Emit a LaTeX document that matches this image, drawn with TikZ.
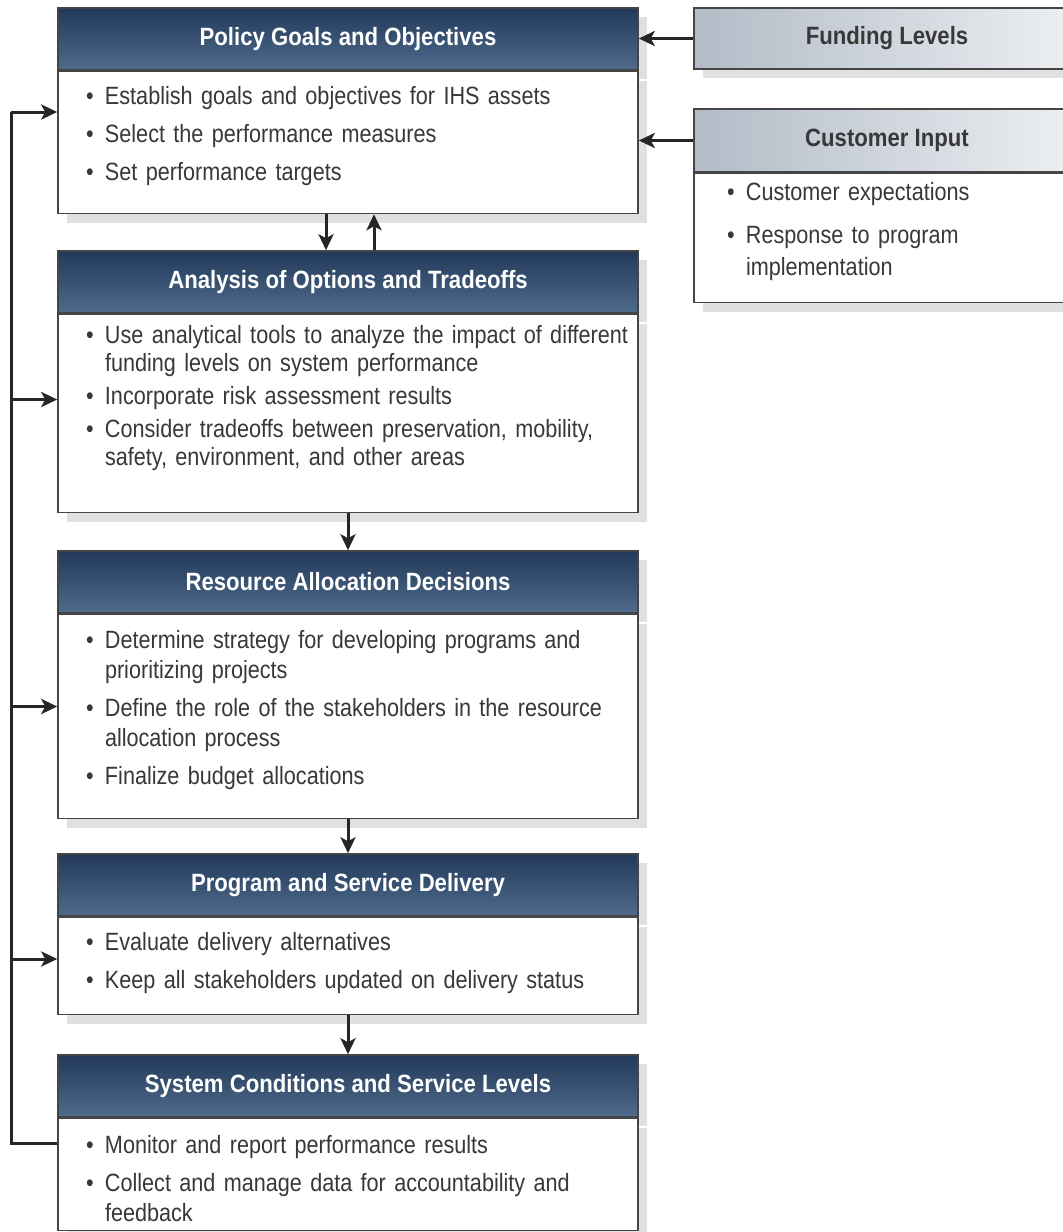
\documentclass[tikz,border=0pt]{standalone}
\usepackage{fontspec}
\setmainfont{Liberation Sans}[FakeStretch=0.886]
\newfontfamily\bodyfont{Liberation Sans}[FakeStretch=0.865]
\usetikzlibrary{positioning,shadows,arrows.meta}

\definecolor{hdtop}{HTML}{22395A}
\definecolor{hdbot}{HTML}{4F6B8B}
\definecolor{inleft}{HTML}{B2BBC7}
\definecolor{inright}{HTML}{EEF0F3}
\definecolor{txt}{HTML}{383838}
\definecolor{edge}{HTML}{454545}

% bullet item with hanging indent
\newcommand{\itm}[2][28pt]{\par\leftskip=#1\hangindent=19pt\hangafter=1\noindent\makebox[19pt][l]{\textbullet}#2\par}

\tikzset{
  box/.style={draw=edge, line width=1.5pt, inner sep=0pt,
    drop shadow={shadow xshift=9pt, shadow yshift=-9pt, fill=black!12, opacity=1}},
  hdr/.style={box, minimum width=580pt, minimum height=62pt, top color=hdtop, bottom color=hdbot,
    text=white, font=\bfseries\fontsize{25}{30}\selectfont},
  body/.style={box, fill=white, text=txt, text width=580pt, align=left,
    font=\bodyfont\fontsize{25}{30}\selectfont,
    execute at begin node={\setlength{\parskip}{8pt}\hyphenpenalty=10000}},
  inhdr/.style={box, minimum width=386pt, left color=inleft, right color=inright,
    text=txt, font=\bfseries\fontsize{25}{30}\selectfont},
  inbody/.style={box, fill=white, text=txt, text width=386pt, align=left,
    font=\bodyfont\fontsize{25}{32}\selectfont,
    execute at begin node={\setlength{\parskip}{11pt}\hyphenpenalty=10000}},
  line/.style={line width=3pt, draw=black!85},
  arr/.style={line, -{Stealth[length=16pt,width=15pt,inset=4pt]}}
}

\begin{document}
\begin{tikzpicture}[x=1pt, y=-1pt]
\useasboundingbox (0,0) rectangle (1063,1232);
\fill[white] (0,0) rectangle (1063,1232);
\clip (0,0) rectangle (1063,1232);

% main column
\node[hdr] (pol-h) at (348,39) {Policy Goals and Objectives};
\node[body, below=0pt of pol-h] (pol-b) {\vbox to 142pt{\vskip 7pt
  \itm{Establish goals and objectives for IHS assets}
  \itm{Select the performance measures}
  \itm{Set performance targets}\vfil}};

\node[hdr] (ana-h) at (348,282) {Analysis of Options and Tradeoffs};
\node[body, font=\bodyfont\fontsize{25}{28}\selectfont, below=0pt of ana-h] (ana-b) {\vbox to 198pt{\parskip=5pt\vskip 6pt
  \itm{Use analytical tools to analyze the impact of different\newline funding levels on system performance}
  \itm{Incorporate risk assessment results}
  \itm{Consider tradeoffs between preservation, mobility,\newline safety, environment, and other areas}\vfil}};

\node[hdr] (res-h) at (348,582) {Resource Allocation Decisions};
\node[body, below=0pt of res-h] (res-b) {\vbox to 204pt{\vskip 8pt
  \itm{Determine strategy for developing programs and\newline prioritizing projects}
  \itm{Define the role of the stakeholders in the resource\newline allocation process}
  \itm{Finalize budget allocations}\vfil}};

\node[hdr] (pro-h) at (348,885) {Program and Service Delivery};
\node[body, below=0pt of pro-h] (pro-b) {\vbox to 97pt{\vskip 7pt
  \itm{Evaluate delivery alternatives}
  \itm{Keep all stakeholders updated on delivery status}\vfil}};

\node[hdr] (sys-h) at (348,1086) {System Conditions and Service Levels};
\node[body, below=0pt of sys-h] (sys-b) {\vbox to 112pt{\vskip 9pt
  \itm{Monitor and report performance results}
  \itm{Collect and manage data for accountability and\newline feedback}\vfil}};

% inputs on the right
\node[inhdr, minimum height=61pt] (fund) at (887,38.5) {Funding Levels};
\node[inhdr, minimum height=63pt] (cust-h) at (887,140.5) {Customer Input};
\node[inbody, below=0pt of cust-h] (cust-b) {\vbox to 129pt{\vskip -2pt
  \itm[33pt]{Customer expectations}
  \itm[33pt]{Response to program\newline implementation}\vfil}};

% arrows
\draw[arr] (fund.west) -- (fund.west -| pol-h.east);
\draw[arr] (cust-h.west) -- (cust-h.west -| pol-b.east);
\draw[arr] ([xshift=-22pt]pol-b.south) -- ([xshift=-22pt]ana-h.north);
\draw[arr] ([xshift=26pt]ana-h.north) -- ([xshift=26pt]pol-b.south);
\draw[arr] (ana-b) -- (res-h);
\draw[arr] (res-b) -- (pro-h);
\draw[arr] (pro-b) -- (sys-h);

% feedback loop
\coordinate (lp-bot) at (11,1143);
\coordinate (lp-top) at (11,112);
\draw[line] (lp-bot -| sys-b.west) -- (lp-bot) -- (lp-top);
\draw[arr] (lp-top) -- (lp-top -| pol-b.west);
\draw[arr] ([xshift=-47pt,yshift=14pt]ana-b.west) -- ([yshift=14pt]ana-b.west);
\draw[arr] ([xshift=-47pt,yshift=10pt]res-b.west) -- ([yshift=10pt]res-b.west);
\draw[arr] ([xshift=-47pt,yshift=7pt]pro-b.west) -- ([yshift=7pt]pro-b.west);
\end{tikzpicture}
\end{document}
